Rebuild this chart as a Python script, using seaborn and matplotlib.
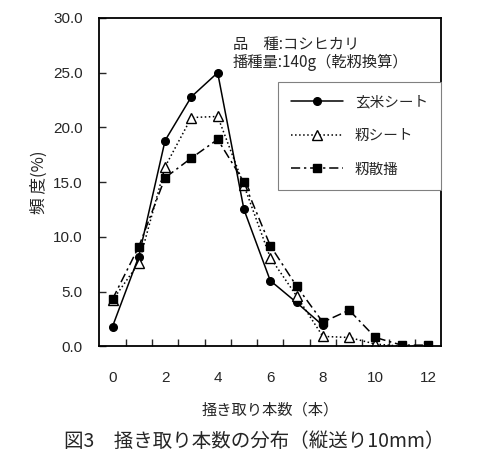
import numpy as np
import pandas as pd
import seaborn as sns
import matplotlib.pyplot as plt
from matplotlib.ticker import FixedLocator

counts = list(range(13))
genmai = [1.8, 8.2, 18.8, 22.8, 25.0, 12.5, 6.0, 4.0, 1.9, np.nan, np.nan, np.nan, np.nan]
momi_sheet = [4.2, 7.6, 16.4, 20.9, 21.0, 14.7, 8.1, 4.6, 0.9, 0.8, 0.2, 0.0, 0.0]
momi_sanpa = [4.3, 9.1, 15.4, 17.2, 18.9, 15.0, 9.2, 5.5, 2.2, 3.3, 0.8, 0.1, 0.1]
labels = ["玄米シート", "籾シート", "籾散播"]

sns.set_style("ticks")
plt.rcParams['font.family'] = ['Noto Sans CJK JP', 'DejaVu Sans']

df = pd.DataFrame({"本数": counts, labels[0]: genmai, labels[1]: momi_sheet, labels[2]: momi_sanpa})

fig = plt.figure(figsize=(4.8, 4.73), dpi=100)
ax = fig.add_axes([0.207, 0.268, 0.712, 0.694])

styles = [
    dict(linestyle="-", marker="o", markersize=5.5, markerfacecolor="black"),
    dict(linestyle=":", marker="^", markersize=7, markerfacecolor="white"),
    dict(linestyle=(0, (6, 2.5, 1.5, 2.5)), marker="s", markersize=6, markerfacecolor="black"),
]
for lab, st in zip(labels, styles):
    sns.lineplot(x="本数", y=lab, data=df, ax=ax, color="black", linewidth=1.1,
                 markeredgecolor="black", markeredgewidth=1.0, label=lab, **st)

ax.set_xlim(-0.5, 12.5)
ax.set_ylim(0, 30)
ax.set_yticks(np.arange(0, 30.1, 5))
ax.set_yticklabels([f"{v:.1f}" for v in np.arange(0, 30.1, 5)])
ax.set_xticks(range(0, 13, 2))
ax.xaxis.set_minor_locator(FixedLocator(np.arange(0.5, 12, 1)))
ax.tick_params(axis="x", which="major", length=0, pad=18, labelsize=11)
ax.tick_params(axis="x", which="minor", direction="in", length=5, width=1)
ax.tick_params(axis="y", direction="in", length=5, width=1, labelsize=11, pad=12)
for t in ax.get_xticklabels() + ax.get_yticklabels():
    t.set_family(['Liberation Sans', 'DejaVu Sans'])
for s in ax.spines.values():
    s.set_linewidth(1.3)
    s.set_color("black")

ax.set_xlabel("掻き取り本数（本）", fontsize=11, labelpad=12)
ax.set_ylabel("頻 度(%)", fontsize=12, labelpad=4)

ax.text(0.39, 0.918, "品　種:コシヒカリ", transform=ax.transAxes, fontsize=11, va="center")
ax.text(0.39, 0.866, "播種量:140g（乾籾換算）", transform=ax.transAxes, fontsize=11, va="center")

leg = ax.legend(loc="upper right", bbox_to_anchor=(1.0, 0.805), borderaxespad=0,
                fontsize=10.5, handlelength=3.6, labelspacing=1.35, borderpad=0.9,
                fancybox=False, framealpha=1, edgecolor="gray")
leg.get_frame().set_linewidth(0.8)

fig.text(0.53, 0.055, "図3　掻き取り本数の分布（縦送り10mm）", ha="center", fontsize=14)

fig.savefig("out.png", dpi=100)
